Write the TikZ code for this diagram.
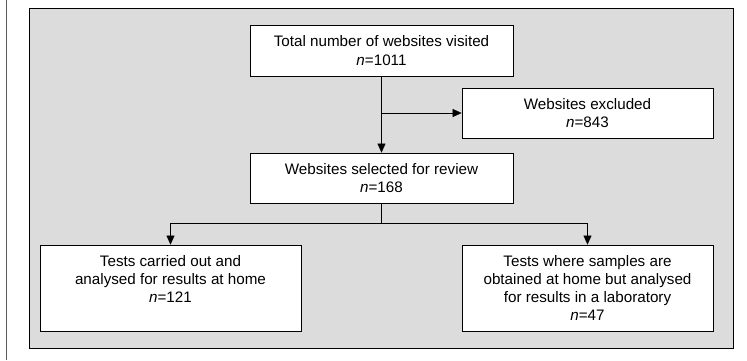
\documentclass[tikz,border=0pt]{standalone}
\usepackage{fontspec}
\setmainfont{Liberation Sans}
\usetikzlibrary{arrows.meta}
\definecolor{panelgray}{RGB}{220,220,220}
\begin{document}
\begin{tikzpicture}[x=1pt,y=-1pt,>={Triangle[length=9pt,width=8pt]},->]
	\tikzstyle{box}=[rectangle,draw=black,fill=white,line width=0.8pt,align=center,font=\fontsize{15.2pt}{18.3pt}\selectfont,inner sep=2pt]
	\tikzstyle{frame}=[-,draw=black,fill=panelgray,line width=0.8pt]
	\useasboundingbox (0,0) rectangle (747,360);
	\draw[-,draw=black!65,line width=1pt] (6,0) -- (6,360);
	\draw[frame] (29,8) rectangle (733,348);

	\node[box, minimum width=263pt, minimum height=51pt] (Total) at (381.5,50.5) {Total number of websites visited\\ \textit{n}=1011};
	\node[box, minimum width=251pt, minimum height=50pt] (Excluded) at (587.5,113) {Websites excluded\\ \textit{n}=843};
	\node[box, minimum width=263pt, minimum height=50pt] (Selected) at (381.5,178) {Websites selected for review\\ \textit{n}=168};
	\node[box, minimum width=261pt, minimum height=86pt, text depth=18pt] (Home) at (170.5,288) {Tests carried out and\\ analysed for results at home\\ \textit{n}=121};
	\node[box, minimum width=251pt, minimum height=86pt] (Lab) at (587.5,288) {Tests where samples are\\ obtained at home but analysed\\ for results in a laboratory\\ \textit{n}=47};

	% n=1011 -> 843 excluded, 168 reviewed -> 121 home, 47 lab
	\coordinate (Branch) at (381.5,113);
	\coordinate (Split) at (381.5,223);

	\draw (Total) -- (Selected);
	\draw (Branch) -- (Excluded);
	\draw[-] (Selected) -- (Split);
	\draw (Split) -| (Home);
	\draw (Split) -| (Lab);
\end{tikzpicture}
\end{document}
